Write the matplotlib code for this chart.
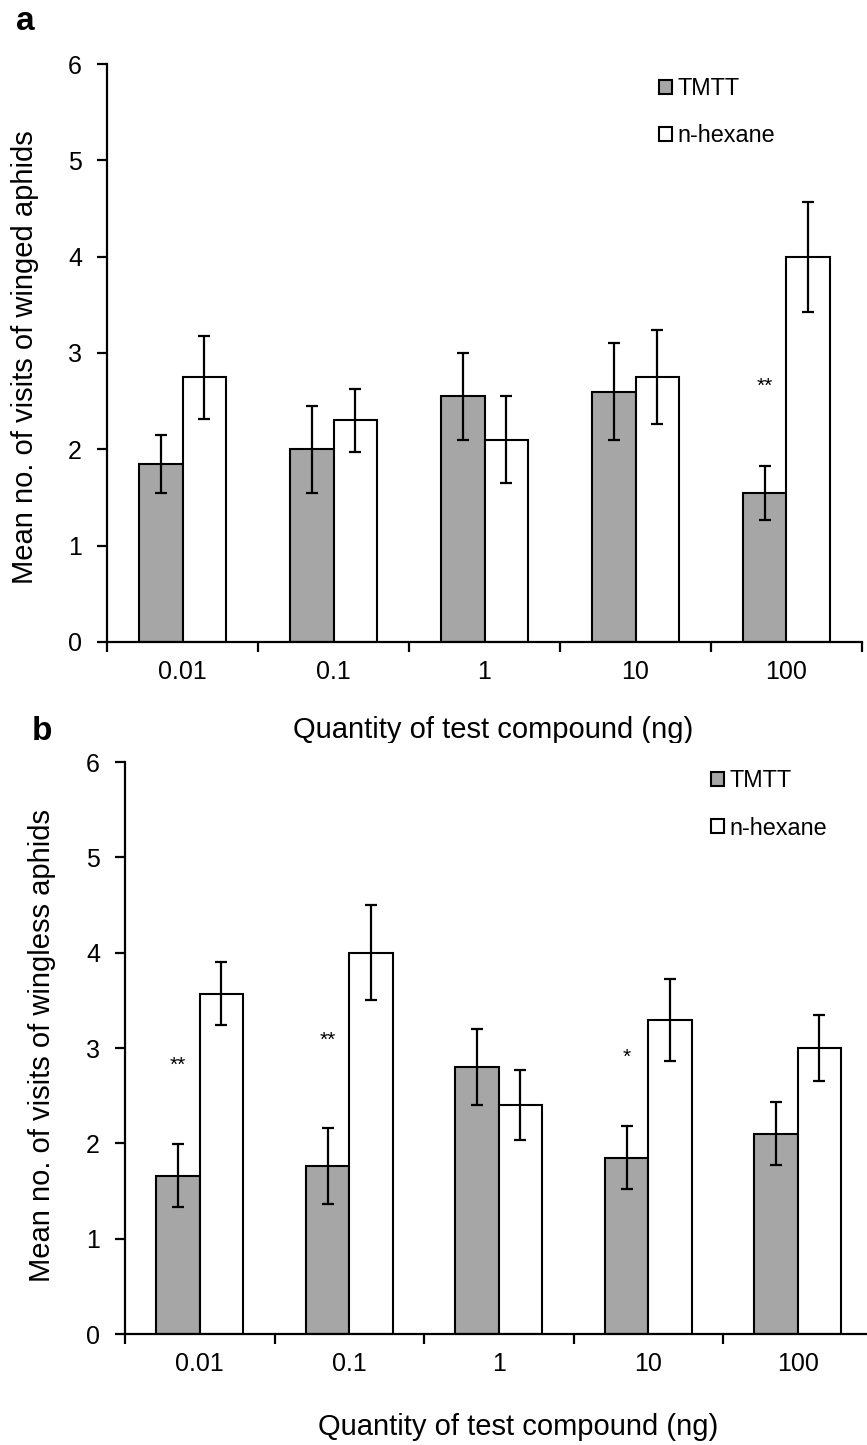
import numpy as np
import matplotlib
matplotlib.use('Agg')
import matplotlib.pyplot as plt
from matplotlib.transforms import Bbox, TransformedBbox

plt.rcParams['font.family'] = ['Liberation Sans', 'DejaVu Sans']

doses = ['0.01', '0.1', '1', '10', '100']
series = ['TMTT', 'n-hexane']

# panel a - winged aphids
a_tmtt = [1.85, 2.0, 2.55, 2.6, 1.55]
a_tmtt_se = [0.30, 0.45, 0.45, 0.50, 0.28]
a_hex = [2.75, 2.3, 2.1, 2.75, 4.0]
a_hex_se = [0.43, 0.33, 0.45, 0.49, 0.57]
a_stars = ['', '', '', '', '**']
a_star_y = [0, 0, 0, 0, 2.65]

# panel b - wingless aphids
b_tmtt = [1.66, 1.76, 2.8, 1.85, 2.1]
b_tmtt_se = [0.33, 0.40, 0.40, 0.33, 0.33]
b_hex = [3.57, 4.0, 2.4, 3.29, 3.0]
b_hex_se = [0.33, 0.50, 0.37, 0.43, 0.35]
b_stars = ['**', '**', '', '*', '']
b_star_y = [2.82, 3.08, 0, 2.90, 0]

W, H = 867, 1445
fig = plt.figure(figsize=(W / 100, H / 100), dpi=100)


def panel(rect, tmtt, tmtt_se, hexv, hex_se, stars, star_y, ylabel, ylab_xy, leg_xy):
    ax = fig.add_axes(rect)
    x = np.arange(len(doses))
    w = 0.29
    ekw = dict(elinewidth=1.6, capthick=1.6, capsize=4.3, ecolor='black')
    ax.bar(x - w / 2, tmtt, w, yerr=tmtt_se, color='#a6a6a6', edgecolor='black',
           linewidth=1.5, error_kw=ekw, label=series[0])
    ax.bar(x + w / 2, hexv, w, yerr=hex_se, color='white', edgecolor='black',
           linewidth=1.5, error_kw=ekw, label=series[1])
    for i, s in enumerate(stars):
        if s:
            ax.text(x[i] - w / 2, star_y[i], s, ha='center', va='center', fontsize=15)
    ax.set_xlim(-0.5, len(doses) - 0.5)
    ax.set_ylim(0, 6)
    ax.set_yticks(range(7))
    ax.set_xticks(np.arange(len(doses) + 1) - 0.5)
    ax.set_xticklabels([])
    ax.set_xticks(x, minor=True)
    ax.set_xticklabels(doses, minor=True)
    ax.tick_params(axis='x', which='minor', length=0, pad=13, labelsize=18)
    ax.tick_params(axis='x', which='major', length=7, width=1.6, direction='out')
    ax.tick_params(axis='y', length=7, width=1.6, direction='out', pad=11, labelsize=18)
    for sp in ['top', 'right']:
        ax.spines[sp].set_visible(False)
    for sp in ['left', 'bottom']:
        ax.spines[sp].set_linewidth(1.6)
    fig.text(ylab_xy[0] / W, 1 - ylab_xy[1] / H, ylabel, rotation=90,
             ha='center', va='center', fontsize=21)
    ax.legend(loc='upper left', bbox_to_anchor=(leg_xy[0] / W, 1 - leg_xy[1] / H),
              bbox_transform=fig.transFigure, frameon=False, fontsize=16.8,
              handlelength=0.55, handleheight=0.55, handletextpad=0.25,
              labelspacing=1.05, borderpad=0, borderaxespad=0)
    return ax


panel([107 / W, 1 - 642 / H, 755 / W, 578 / H], a_tmtt, a_tmtt_se, a_hex, a_hex_se,
      a_stars, a_star_y, 'Mean no. of visits of winged aphids', (25, 357), (659, 77))
panel([125 / W, 1 - 1334 / H, 747.5 / W, 572 / H], b_tmtt, b_tmtt_se, b_hex, b_hex_se,
      b_stars, b_star_y, 'Mean no. of visits of wingless aphids', (42, 1046), (711, 769))

fig.text(25 / W, 1 - 22 / H, 'a', fontsize=24, fontweight='bold', ha='center', va='center')
fig.text(42 / W, 1 - 731 / H, 'b', fontsize=24, fontweight='bold', ha='center', va='center')
xl_a = fig.text(493 / W, 1 - 730 / H, 'Quantity of test compound (ng)', fontsize=21,
                ha='center', va='center')
# descenders of the upper x label are cut off in the original
xl_a.set_clip_box(TransformedBbox(Bbox([[0, 1 - 743 / H], [1, 1]]), fig.transFigure))
xl_a.set_clip_on(True)
fig.text(518 / W, 1 - 1427 / H, 'Quantity of test compound (ng)', fontsize=21,
         ha='center', va='center')

fig.savefig('out.png', dpi=100)
